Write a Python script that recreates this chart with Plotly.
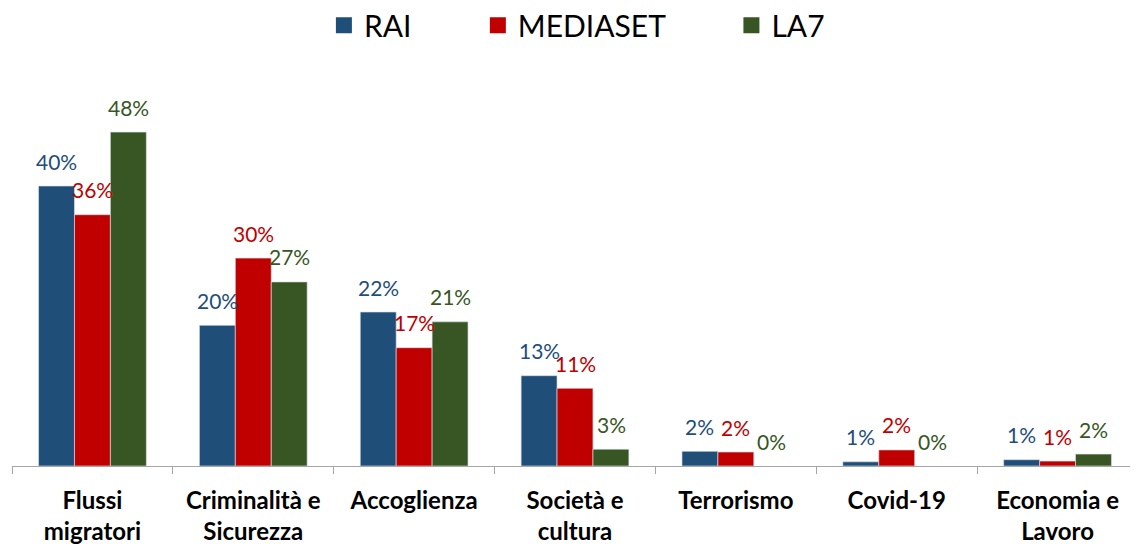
import plotly.graph_objects as go

categories = ["Flussi<br>migratori", "Criminalità e<br>Sicurezza", "Accoglienza",
              "Società e<br>cultura", "Terrorismo", "Covid-19", "Economia e<br>Lavoro"]

rai = [40.0, 20.1, 22.0, 12.9, 2.1, 0.6, 0.9]
mediaset = [35.9, 29.7, 16.9, 11.1, 2.0, 2.3, 0.7]
la7 = [47.7, 26.3, 20.6, 2.4, 0.0, 0.0, 1.7]

rai_labels = ["40%", "20%", "22%", "13%", "2%", "1%", "1%"]
mediaset_labels = ["36%", "30%", "17%", "11%", "2%", "2%", "1%"]
la7_labels = ["48%", "27%", "21%", "3%", "0%", "0%", "2%"]

SERIES = [
    ("RAI", rai, rai_labels, "#1F4E79", 8),
    ("MEDIASET", mediaset, mediaset_labels, "#C00000", 8),
    ("LA7", la7, la7_labels, "#375623", 0),
]

FONT = "Lato, Carlito, 'Open Sans', sans-serif"
BAR_PX = 36  # approx pixel width of one bar, used to shift the labels

fig = go.Figure()

for name, vals, labels, color, pad in SERIES:
    fig.add_trace(go.Bar(
        x=categories, y=vals, name=name, showlegend=False,
        marker=dict(color=color,
                    line=dict(color="rgba(220,225,230,0.8)",
                              width=[0.8 if v > 0 else 0 for v in vals])),
    ))

# legend entries with bigger square markers
for name, vals, labels, color, pad in SERIES:
    fig.add_trace(go.Scatter(
        x=[None], y=[None], mode="markers", name=name + "\u00a0" * pad,
        marker=dict(symbol="square", size=20, color=color),
    ))

# data labels
for i, (name, vals, labels, color, pad) in enumerate(SERIES):
    for cat, v, lab in zip(categories, vals, labels):
        fig.add_annotation(
            x=cat, y=v, text=lab, showarrow=False,
            xshift=(i - 1) * BAR_PX, yshift=25, yanchor="middle",
            font=dict(family=FONT, size=21, color=color),
        )

fig.update_layout(
    width=1130, height=536,
    paper_bgcolor="white", plot_bgcolor="white",
    barmode="group", bargap=0.33, bargroupgap=0,
    margin=dict(l=4, r=0, t=108, b=78, autoexpand=False),
    font=dict(family=FONT, color="black"),
    legend=dict(orientation="h", x=0.277, xanchor="left",
                yref="container", y=0.968, yanchor="middle",
                font=dict(size=30, family=FONT, color="black"),
                itemsizing="trace"),
    xaxis=dict(
        showline=True, linecolor="#A6A6A6", linewidth=1,
        ticks="outside", tickcolor="#A6A6A6", ticklen=7, tickson="boundaries",
        tickfont=dict(family=FONT, size=24, color="black", weight="bold"),
        ticklabelstandoff=13,
    ),
    yaxis=dict(visible=False, range=[0, 50], showgrid=False, zeroline=False),
)

fig.write_html("out.html")
